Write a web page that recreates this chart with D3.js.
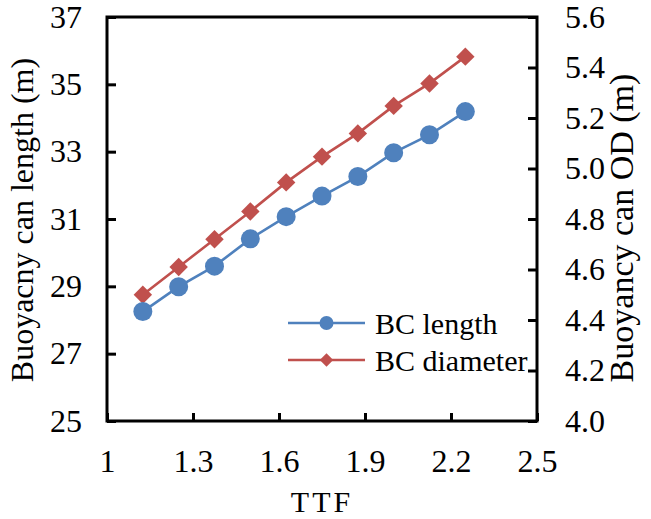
<!DOCTYPE html>
<html>
<head>
<meta charset="utf-8">
<script src="https://cdn.jsdelivr.net/npm/d3@7"></script>
<style>
  html, body { margin: 0; padding: 0; background: #fff; }
  svg { display: block; }
  svg text { font-family: "Liberation Serif", "Times New Roman", Times, "Nimbus Roman", "DejaVu Serif", "Noto Serif", serif !important; fill: #000; }
</style>
</head>
<body>
<svg id="chart" width="651" height="519"></svg>
<script>
// TTF values and the two buoyancy-can dimensions
const ttf = [1.125, 1.25, 1.375, 1.5, 1.625, 1.75, 1.875, 2.0, 2.125, 2.25];
const bcLength = [28.25, 28.99, 29.60, 30.41, 31.07, 31.68, 32.26, 32.97, 33.50, 34.19];
const bcDiameter = [4.50, 4.61, 4.72, 4.83, 4.945, 5.047, 5.139, 5.248, 5.337, 5.443];

const xTicks = [1, 1.3, 1.6, 1.9, 2.2, 2.5];
const yLeftTicks = [25, 27, 29, 31, 33, 35, 37];
const yRightTicks = [4.0, 4.2, 4.4, 4.6, 4.8, 5.0, 5.2, 5.4, 5.6];
const seriesNames = ["BC length", "BC diameter"];

const blue = "#4F81BD";
const red = "#C0504D";
const serif = "'Liberation Serif', 'Times New Roman', Times, 'Nimbus Roman', 'DejaVu Serif', 'Noto Serif', serif";

const svg = d3.select("#chart");
const plot = { left: 107, right: 537, top: 17, bottom: 421 };

const x = d3.scaleLinear().domain([1, 2.5]).range([plot.left, plot.right]);
const yL = d3.scaleLinear().domain([25, 37]).range([plot.bottom, plot.top]);
const yR = d3.scaleLinear().domain([4.0, 5.6]).range([plot.bottom, plot.top]);

// Axes (ticks point inward)
const xAxis = d3.axisBottom(x).tickValues(xTicks).tickFormat(d3.format("~g"))
  .tickSizeInner(-8).tickSizeOuter(0).tickPadding(28);
const yAxisL = d3.axisLeft(yL).tickValues(yLeftTicks).tickFormat(d3.format("d"))
  .tickSizeInner(-9).tickSizeOuter(0).tickPadding(25);
const yAxisR = d3.axisRight(yR).tickValues(yRightTicks).tickFormat(d3.format(".1f"))
  .tickSizeInner(-9).tickSizeOuter(0).tickPadding(28);

function styleAxis(g) {
  g.attr("font-family", serif).attr("font-size", 32);
  g.select(".domain").remove();
  g.selectAll(".tick line").attr("stroke", "#000").attr("stroke-width", 3);
  g.selectAll(".tick text").attr("font-size", 32).attr("font-family", serif);
}

svg.append("g").attr("transform", `translate(0,${plot.bottom})`).call(xAxis).call(styleAxis);
svg.append("g").attr("transform", `translate(${plot.left},0)`).call(yAxisL).call(styleAxis);
svg.append("g").attr("transform", `translate(${plot.right},0)`).call(yAxisR).call(styleAxis);

// Plot frame
svg.append("rect")
  .attr("x", plot.left).attr("y", plot.top)
  .attr("width", plot.right - plot.left).attr("height", plot.bottom - plot.top)
  .attr("fill", "none").attr("stroke", "#000").attr("stroke-width", 3);

// Series
const lenData = ttf.map((t, i) => ({ t, v: bcLength[i] }));
const diaData = ttf.map((t, i) => ({ t, v: bcDiameter[i] }));

svg.append("path").datum(diaData)
  .attr("fill", "none").attr("stroke", red).attr("stroke-width", 2.6)
  .attr("d", d3.line().x(d => x(d.t)).y(d => yR(d.v)));
svg.append("path").datum(lenData)
  .attr("fill", "none").attr("stroke", blue).attr("stroke-width", 2.6)
  .attr("d", d3.line().x(d => x(d.t)).y(d => yL(d.v)));

svg.append("g").selectAll("path").data(diaData).join("path")
  .attr("transform", d => `translate(${x(d.t)},${yR(d.v)}) rotate(45)`)
  .attr("d", d3.symbol().type(d3.symbolSquare).size(170))
  .attr("fill", red);
svg.append("g").selectAll("circle").data(lenData).join("circle")
  .attr("cx", d => x(d.t)).attr("cy", d => yL(d.v)).attr("r", 9.5)
  .attr("fill", blue);

// Legend
const legend = svg.append("g");
const legendRows = [
  { name: seriesNames[0], color: blue, y: 323, marker: "circle" },
  { name: seriesNames[1], color: red, y: 360, marker: "diamond" }
];
legendRows.forEach(r => {
  legend.append("line").attr("x1", 288).attr("x2", 365).attr("y1", r.y).attr("y2", r.y)
    .attr("stroke", r.color).attr("stroke-width", 2.6);
  if (r.marker === "circle") {
    legend.append("circle").attr("cx", 326.5).attr("cy", r.y).attr("r", 7).attr("fill", r.color);
  } else {
    legend.append("path").attr("transform", `translate(326.5,${r.y}) rotate(45)`)
      .attr("d", d3.symbol().type(d3.symbolSquare).size(90)).attr("fill", r.color);
  }
  legend.append("text").attr("x", 375).attr("y", r.y + 11).attr("font-size", 30)
    .attr("font-family", serif).text(r.name);
});

// Axis titles
svg.append("text").attr("x", 322).attr("y", 512).attr("text-anchor", "middle")
  .attr("font-family", serif).attr("font-size", 30).attr("letter-spacing", 3).text("TTF");
svg.append("text").attr("transform", `translate(33,220) rotate(-90)`)
  .attr("font-family", serif).attr("text-anchor", "middle").attr("font-size", 32)
  .text("Buoyacny can length (m)");
svg.append("text").attr("transform", `translate(633,228) rotate(-90)`)
  .attr("font-family", serif).attr("text-anchor", "middle").attr("font-size", 34)
  .text("Buoyancy can OD (m)");
</script>
</body>
</html>
